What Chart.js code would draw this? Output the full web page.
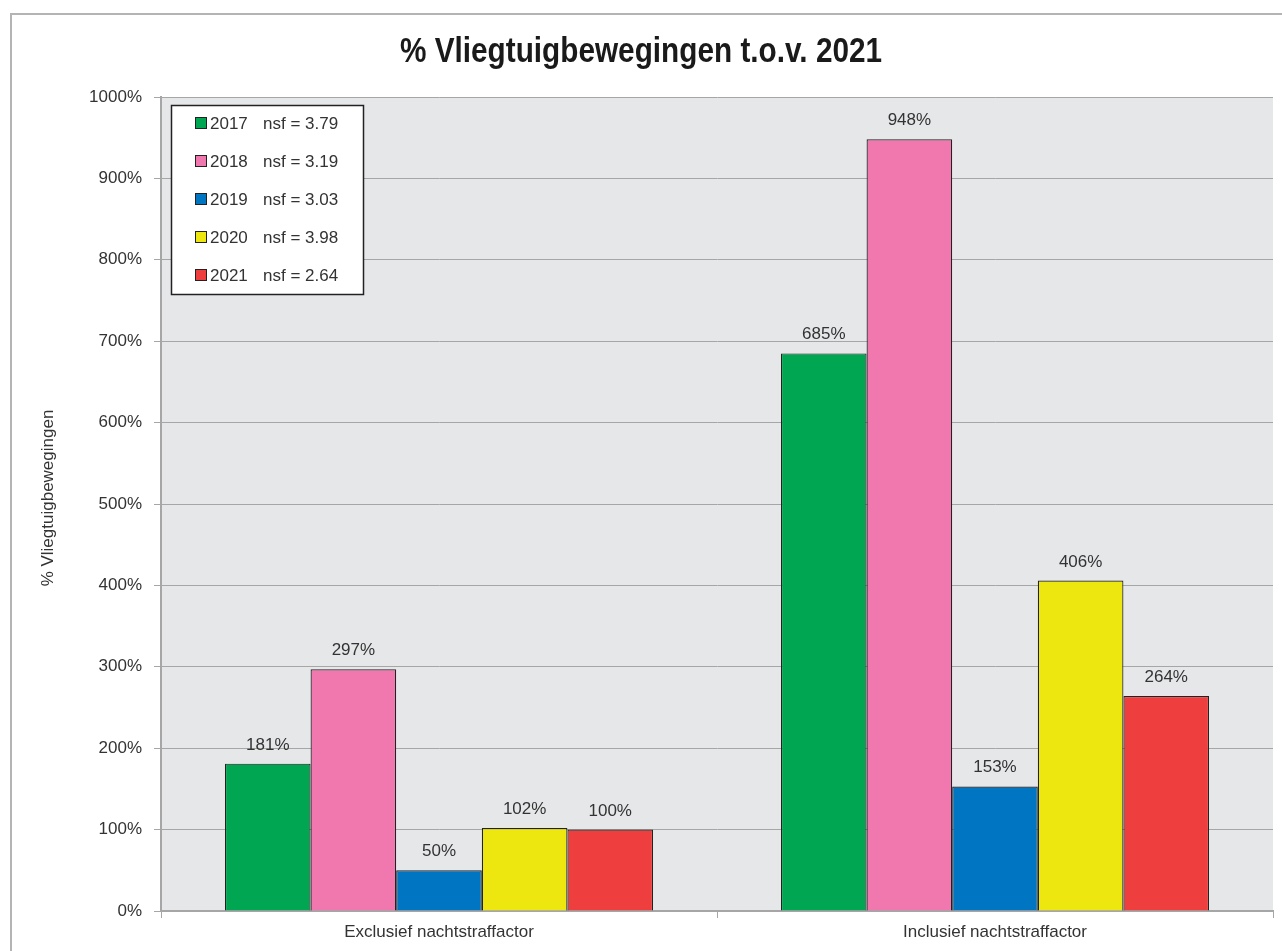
<!DOCTYPE html>
<html>
<head>
<meta charset="utf-8">
<script src="https://cdn.jsdelivr.net/npm/chart.js@4"></script>
<style>
  html, body { margin: 0; padding: 0; background: #fff; }
  #wrap { width: 1282px; height: 951px; position: relative; }
</style>
</head>
<body>
<div id="wrap"><canvas id="chartVlieg"></canvas></div>
<script>
// gegevens
const categorieen = ["Exclusief nachtstraffactor", "Inclusief nachtstraffactor"];
const jaren = ["2017", "2018", "2019", "2020", "2021"];
const nsf = ["3.79", "3.19", "3.03", "3.98", "2.64"];
const waarden = [
  [181, 685],
  [297, 948],
  [50, 153],
  [102, 406],
  [100, 264],
];
const yTicks = [0, 100, 200, 300, 400, 500, 600, 700, 800, 900, 1000];

const kleuren = ["#00a651", "#f178ae", "#0075c2", "#ede70f", "#ef3e3e"];
const FONT = "'Liberation Sans', Arial, sans-serif";

// achtergrond, kader, titel, legenda en labels
const tekenPlugin = {
  id: "tekenPlugin",
  beforeDraw(chart) {
    const { ctx, chartArea } = chart;
    ctx.save();
    ctx.fillStyle = "#e6e7e9";
    ctx.fillRect(chartArea.left, chartArea.top, chartArea.right - chartArea.left, chartArea.bottom - chartArea.top);
    ctx.restore();
  },
  afterDraw(chart) {
    const { ctx } = chart;
    ctx.save();

    // buitenkader
    ctx.strokeStyle = "#b4b4b4";
    ctx.lineWidth = 2;
    ctx.strokeRect(11, 14, 1290, 960);

    // titel (smal, zoals het origineel)
    ctx.save();
    ctx.translate(641, 62);
    ctx.scale(0.85, 1);
    ctx.fillStyle = "#1a1a1a";
    ctx.font = "bold 35px " + FONT;
    ctx.textAlign = "center";
    ctx.textBaseline = "alphabetic";
    ctx.fillText("% Vliegtuigbewegingen t.o.v. 2021", 0, 0);
    ctx.restore();

    // as-titel
    ctx.save();
    ctx.translate(48, 498);
    ctx.rotate(-Math.PI / 2);
    ctx.textAlign = "center";
    ctx.textBaseline = "middle";
    ctx.font = "17px " + FONT;
    ctx.fillStyle = "#333";
    ctx.fillText("% Vliegtuigbewegingen", 0, 0);
    ctx.restore();

    // waardelabels
    ctx.font = "17px " + FONT;
    ctx.fillStyle = "#333";
    ctx.textAlign = "center";
    ctx.textBaseline = "alphabetic";
    chart.data.datasets.forEach((ds, i) => {
      chart.getDatasetMeta(i).data.forEach((bar, j) => {
        ctx.fillText(ds.data[j] + "%", bar.x, bar.y - 14);
      });
    });

    // legenda
    const lx = 171, ly = 105, lw = 192, lh = 189;
    ctx.fillStyle = "#fff";
    ctx.fillRect(lx, ly, lw, lh);
    ctx.strokeStyle = "#222";
    ctx.lineWidth = 1.5;
    ctx.strokeRect(lx + 0.5, ly + 0.5, lw, lh);
    ctx.textAlign = "left";
    ctx.textBaseline = "middle";
    ctx.font = "17px " + FONT;
    chart.data.datasets.forEach((ds, i) => {
      const y = 123 + i * 38;
      ctx.fillStyle = ds.backgroundColor;
      ctx.fillRect(195, y - 6, 12, 12);
      ctx.strokeStyle = "#222";
      ctx.lineWidth = 1;
      ctx.strokeRect(195.5, y - 5.5, 11, 11);
      ctx.fillStyle = "#333";
      ctx.fillText(ds.label, 210, y + 1);
      ctx.fillText("nsf = " + nsf[i], 263, y + 1);
    });

    ctx.restore();
  },
};

const datasets = jaren.map((jaar, i) => ({
  label: jaar,
  data: waarden[i],
  backgroundColor: kleuren[i],
  borderColor: "#222",
  borderWidth: 1.2,
  borderSkipped: "bottom",
}));

new Chart(document.getElementById("chartVlieg").getContext("2d"), {
  type: "bar",
  data: { labels: categorieen, datasets: datasets },
  options: {
    responsive: true,
    maintainAspectRatio: false,
    animation: false,
    layout: { padding: { top: 97, right: 9, left: 0, bottom: 0 } },
    categoryPercentage: 0.77,
    barPercentage: 1.0,
    plugins: {
      legend: { display: false },
      tooltip: { enabled: false },
    },
    scales: {
      x: {
        offset: true,
        grid: {
          offset: true,
          drawOnChartArea: false,
          tickLength: 7,
          color: "#a6a6a6",
        },
        border: { color: "#a6a6a6", width: 2 },
        ticks: {
          color: "#333",
          font: { family: FONT, size: 17 },
          padding: 4,
        },
        afterFit: (s) => { s.height = 40; },
      },
      y: {
        min: 0,
        max: 1000,
        afterBuildTicks: (s) => { s.ticks = yTicks.map((v) => ({ value: v })); },
        grid: { color: "#a6a6a6", tickLength: 7, lineWidth: 1 },
        border: { color: "#a6a6a6", width: 2 },
        ticks: {
          color: "#333",
          font: { family: FONT, size: 17 },
          padding: 12,
          callback: (v) => v + "%",
        },
        afterFit: (s) => { s.width = 161; },
      },
    },
  },
  plugins: [tekenPlugin],
});
</script>
</body>
</html>
